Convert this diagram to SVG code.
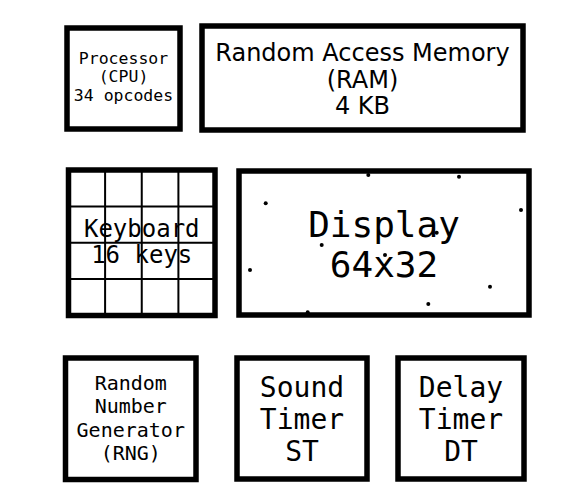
<svg xmlns="http://www.w3.org/2000/svg" width="583" height="504" viewBox="0 0 583 504">
<style>
.box{fill:#fff;stroke:#000;stroke-width:5.5}
.grid{stroke:#000;stroke-width:2;fill:none}
.m{font-family:"DejaVu Sans Mono",monospace;fill:#000;text-anchor:middle}
.s{font-family:"DejaVu Sans",sans-serif;fill:#000;text-anchor:middle}
.dot{fill:#000}
</style>
<rect width="583" height="504" fill="#fff"/>
<g id="cpu">
<rect class="box" x="67" y="28" width="113" height="101"/>
<text class="m" font-size="16.5" x="123.5"><tspan x="123.5" y="63.5">Processor</tspan><tspan x="123.5" y="82">(CPU)</tspan><tspan x="123.5" y="100.5">34 opcodes</tspan></text>
</g>
<g id="ram">
<rect class="box" x="202" y="26" width="321" height="104"/>
<text class="s" font-size="24" x="362.5"><tspan x="362.5" y="61">Random Access Memory</tspan><tspan x="362.5" y="87.5">(RAM)</tspan><tspan x="362.5" y="114">4 KB</tspan></text>
</g>
<g id="keyboard">
<rect class="box" x="68.5" y="170" width="146.5" height="145.5"/>
<path class="grid" d="M105.1 170V315.5M141.75 170V315.5M178.4 170V315.5M68.5 206.4H215M68.5 242.75H215M68.5 279.1H215"/>
<text class="m" font-size="24" x="141.75"><tspan x="141.75" y="236.5">Keyboard</tspan><tspan x="141.75" y="263">16 keys</tspan></text>
</g>
<g id="display">
<rect class="box" x="239" y="171" width="290" height="144"/>
<g class="dot">
<circle cx="368.3" cy="175" r="2"/>
<circle cx="459" cy="176.7" r="2"/>
<circle cx="265.7" cy="203.3" r="2"/>
<circle cx="521" cy="210" r="2"/>
<circle cx="321.7" cy="245" r="2"/>
<circle cx="436.7" cy="232.7" r="2"/>
<circle cx="385" cy="255" r="2"/>
<circle cx="250" cy="270" r="2"/>
<circle cx="490" cy="286.7" r="2"/>
<circle cx="428.3" cy="304" r="2"/>
<circle cx="307.7" cy="312.3" r="2"/>
</g>
<text class="m" font-size="36" x="384"><tspan x="384" y="237">Display</tspan><tspan x="384" y="277">64x32</tspan></text>
</g>
<g id="rng">
<rect class="box" x="65.5" y="358" width="130.5" height="121.5"/>
<text class="m" font-size="20" x="130.75"><tspan x="130.75" y="390">Random</tspan><tspan x="130.75" y="413">Number</tspan><tspan x="130.75" y="437">Generator</tspan><tspan x="130.75" y="460">(RNG)</tspan></text>
</g>
<g id="sound">
<rect class="box" x="237" y="358" width="130" height="121"/>
<text class="m" font-size="28" x="302"><tspan x="302" y="397">Sound</tspan><tspan x="302" y="429">Timer</tspan><tspan x="302" y="461">ST</tspan></text>
</g>
<g id="delay">
<rect class="box" x="398" y="358" width="126" height="121"/>
<text class="m" font-size="28" x="461"><tspan x="461" y="397">Delay</tspan><tspan x="461" y="429">Timer</tspan><tspan x="461" y="461">DT</tspan></text>
</g>
<g id="connectors"/>
</svg>
